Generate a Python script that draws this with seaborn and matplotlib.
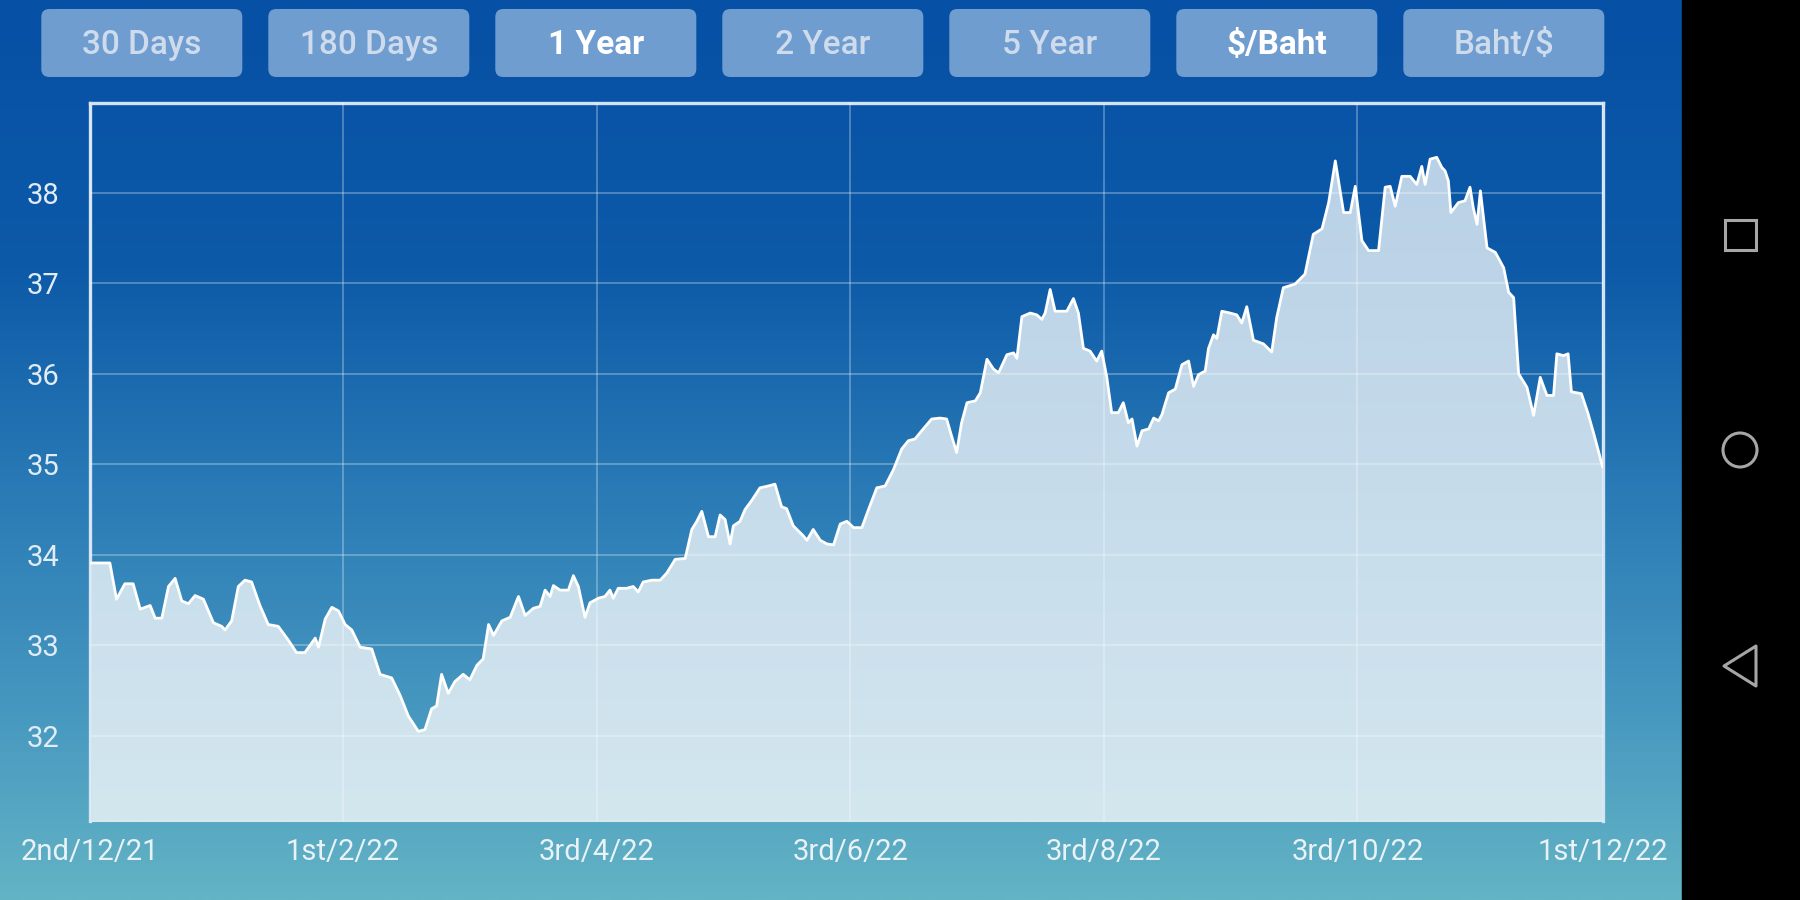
import numpy as np
import pandas as pd
import matplotlib
matplotlib.use("Agg")
import matplotlib.pyplot as plt
import matplotlib.dates as mdates
import seaborn as sns
from matplotlib.patches import FancyBboxPatch, Rectangle, Circle, Polygon
from matplotlib.colors import LinearSegmentedColormap

# ---------------- data ----------------
start_date = "2021-12-02"
day_offsets = [
    0.0, 4.9, 6.5, 8.5, 10.5, 12.2, 14.6, 15.8, 17.4, 19.0, 20.6, 22.2, 23.8, 25.4, 27.4,
    29.8, 31.8, 32.6, 34.2, 35.8, 37.4, 39.0, 41.0, 43.0, 45.4, 47.8, 49.8, 51.8, 54.3, 55.1,
    56.7, 58.3, 59.9, 61.5, 63.1, 65.1, 67.9, 69.9, 72.7, 74.7, 76.7, 79.1, 80.7, 82.3, 83.5,
    84.7, 86.3, 87.9, 89.9, 91.5, 93.2, 94.7, 96.0, 97.2, 99.2, 101.2, 103.2, 104.8, 106.8, 108.4,
    109.6, 110.8, 111.6, 113.2, 115.2, 116.4, 117.6, 119.2, 120.4, 122.4, 124.0, 125.2, 126.0, 127.2, 129.2,
    130.8, 132.0, 133.2, 135.3, 137.3, 138.9, 140.9, 143.3, 144.9, 146.1, 147.3, 148.9, 150.5, 151.7, 152.9,
    154.1, 154.9, 156.5, 157.7, 159.3, 161.3, 163.3, 164.9, 166.5, 167.7, 169.3, 171.7, 172.6, 174.1, 175.8,
    177.4, 179.0, 180.6, 182.2, 183.8, 185.8, 187.4, 189.4, 191.4, 193.4, 195.4, 197.0, 198.6, 200.2, 202.6,
    204.6, 206.2, 207.4, 208.6, 209.8, 211.1, 213.1, 214.3, 215.9, 217.5, 218.7, 220.7, 222.3, 223.1, 224.3,
    226.3, 227.9, 229.1, 229.9, 231.1, 232.3, 233.9, 235.1, 236.7, 237.9, 239.1, 240.7, 242.3, 243.5, 244.7,
    245.9, 247.5, 248.7, 249.9, 250.8, 252.0, 253.2, 254.8, 256.0, 257.2, 258.0, 259.6, 261.2, 262.8, 264.4,
    265.6, 266.8, 268.4, 269.2, 270.4, 271.2, 272.4, 274.4, 276.0, 277.2, 278.4, 280.0, 282.4, 284.4, 285.6,
    287.2, 290.0, 292.4, 294.4, 296.5, 298.1, 299.7, 301.7, 303.3, 304.5, 306.1, 307.7, 310.1, 311.7, 312.9,
    314.1, 315.7, 317.7, 319.3, 320.5, 321.3, 322.5, 324.1, 325.3, 326.1, 326.9, 327.5, 329.3, 330.9, 332.1,
    332.9, 333.8, 334.6, 336.2, 338.2, 340.2, 341.4, 342.6, 343.8, 345.8, 347.4, 349.0, 350.6, 352.2, 353.0,
    354.6, 355.7, 356.5, 358.9, 360.5, 362.1, 364.0,
]
rates = [
    33.91, 33.91, 33.51, 33.68, 33.68, 33.40, 33.44, 33.30, 33.30, 33.65, 33.74, 33.49, 33.46, 33.55, 33.51,
    33.25, 33.21, 33.17, 33.27, 33.65, 33.72, 33.70, 33.44, 33.23, 33.21, 33.06, 32.92, 32.92, 33.08, 32.98,
    33.29, 33.42, 33.38, 33.23, 33.17, 32.98, 32.96, 32.68, 32.64, 32.45, 32.22, 32.05, 32.07, 32.30, 32.33,
    32.68, 32.47, 32.60, 32.68, 32.62, 32.78, 32.85, 33.23, 33.11, 33.27, 33.31, 33.54, 33.33, 33.41, 33.43,
    33.61, 33.54, 33.66, 33.61, 33.61, 33.77, 33.65, 33.31, 33.47, 33.52, 33.54, 33.61, 33.52, 33.63, 33.63,
    33.65, 33.59, 33.70, 33.72, 33.72, 33.80, 33.95, 33.96, 34.28, 34.37, 34.48, 34.20, 34.20, 34.44, 34.39,
    34.12, 34.32, 34.37, 34.50, 34.60, 34.74, 34.76, 34.78, 34.53, 34.51, 34.32, 34.21, 34.16, 34.28, 34.16,
    34.12, 34.11, 34.34, 34.37, 34.30, 34.30, 34.50, 34.74, 34.76, 34.94, 35.17, 35.26, 35.28, 35.37, 35.50,
    35.51, 35.50, 35.31, 35.13, 35.46, 35.68, 35.70, 35.79, 36.16, 36.05, 36.01, 36.21, 36.23, 36.17, 36.63,
    36.67, 36.65, 36.60, 36.67, 36.93, 36.69, 36.69, 36.69, 36.83, 36.67, 36.28, 36.25, 36.14, 36.25, 35.97,
    35.57, 35.57, 35.68, 35.46, 35.50, 35.20, 35.37, 35.39, 35.51, 35.48, 35.55, 35.79, 35.83, 36.10, 36.14,
    35.86, 35.99, 36.03, 36.28, 36.43, 36.39, 36.69, 36.67, 36.65, 36.56, 36.74, 36.37, 36.33, 36.24, 36.62,
    36.95, 36.99, 37.10, 37.54, 37.60, 37.89, 38.35, 37.78, 37.78, 38.07, 37.47, 37.36, 37.36, 38.06, 38.07,
    37.85, 38.18, 38.18, 38.09, 38.29, 38.09, 38.37, 38.39, 38.28, 38.24, 38.13, 37.78, 37.89, 37.91, 38.06,
    37.83, 37.65, 38.02, 37.39, 37.34, 37.17, 36.90, 36.84, 36.00, 35.85, 35.54, 35.96, 35.76, 35.76, 36.22,
    36.20, 36.22, 35.80, 35.78, 35.56, 35.30, 34.97,
]
tick_dates = ["2021-12-02", "2022-02-01", "2022-04-03", "2022-06-03", "2022-08-03", "2022-10-03", "2022-12-01"]
tick_labels = ["2nd/12/21", "1st/2/22", "3rd/4/22", "3rd/6/22", "3rd/8/22", "3rd/10/22", "1st/12/22"]
y_ticks = [32, 33, 34, 35, 36, 37, 38]
buttons = ["30 Days", "180 Days", "1 Year", "2 Year", "5 Year", "$/Baht", "Baht/$"]
active_buttons = ["1 Year", "$/Baht"]

# ---------------- style ----------------
sns.set_theme(style="white")
plt.rcParams['font.family'] = ['Roboto', 'DejaVu Sans']

W, H = 1800, 900
fig = plt.figure(figsize=(W / 100, H / 100), dpi=100)

# background gradient
bg = fig.add_axes([0, 0, 1, 1], zorder=0)
bg_cmap = LinearSegmentedColormap.from_list(
    "bg", [(0.0, "#0650a5"), (0.3, "#0d5aa8"), (0.55, "#2a7bb6"), (0.8, "#4899c0"), (1.0, "#63b4c4")])
grad = np.linspace(0, 1, 512).reshape(-1, 1)
bg.imshow(grad, aspect="auto", cmap=bg_cmap, extent=[0, 1, 0, 1], origin="upper")
bg.set_xlim(0, 1)
bg.set_ylim(0, 1)
bg.axis("off")

px = fig.dpi_scale_trans  # inches; 1 inch = 100 px


def P(x, y):
    """full-pixel coords (top-left origin) -> inches from bottom-left"""
    return x / 100.0, (H - y) / 100.0


# android nav bar
bg.add_patch(Rectangle(P(1682, 900), 1.18, 9.0, transform=px, color="black", zorder=5))
icon_col = "#a6a6a6"
bg.add_patch(Rectangle(P(1725, 250), 0.31, 0.30, transform=px, fill=False,
                       ec=icon_col, lw=2.2, zorder=6))
bg.add_patch(Circle(P(1740, 450), 0.17, transform=px, fill=False, ec=icon_col, lw=2.2, zorder=6))
bg.add_patch(Polygon([P(1724, 666), P(1756, 646), P(1756, 686)], closed=True, transform=px,
                     fill=False, ec=icon_col, lw=2.2, joinstyle="round", zorder=6))

# top buttons
for i, lab in enumerate(buttons):
    x0 = 41.3 + i * 227.0
    bx, by = P(x0, 77)
    bg.add_patch(FancyBboxPatch((bx, by), 2.01, 0.68, transform=px,
                                boxstyle="round,pad=0,rounding_size=0.08",
                                fc="#6f9dcf", ec="none", zorder=6))
    active = lab in active_buttons
    tx, ty = P(x0 + 100.5, 45)
    bg.text(tx, ty, lab, transform=px, ha="center", va="center", fontsize=24,
            color="white" if active else "#cddbec",
            fontweight="bold" if active else "medium", zorder=7)

# ---------------- main chart ----------------
ylo, yhi = 31.06, 38.99
ax = fig.add_axes([89.5 / W, 1 - 821 / H, (1602.6 - 89.5) / W, (821 - 103) / H], zorder=2)
ax.patch.set_alpha(0)

dates = pd.Timestamp(start_date) + pd.to_timedelta(day_offsets, unit="D")
df = pd.DataFrame({"date": dates, "rate": rates})

x0n = mdates.date2num(pd.Timestamp(tick_dates[0]))
x1n = mdates.date2num(pd.Timestamp(tick_dates[-1]))

# gradient area fill clipped to the area under the curve
poly = ax.fill_between(mdates.date2num(df["date"]), df["rate"], ylo, color="none", lw=0, zorder=1)
fill_cmap = LinearSegmentedColormap.from_list("fill", ["#b7cfe6", "#d3e7ef"])
im = ax.imshow(grad, aspect="auto", cmap=fill_cmap, extent=[x0n, x1n, ylo, yhi],
               origin="upper", zorder=1)
im.set_clip_path(poly.get_paths()[0], transform=ax.transData)

sns.lineplot(data=df, x="date", y="rate", color="white", lw=2.0, ax=ax, zorder=4)

ax.set_xlim(x0n, x1n)
ax.set_ylim(ylo, yhi)
ax.set_xticks([mdates.date2num(pd.Timestamp(d)) for d in tick_dates])
ax.set_xticklabels(tick_labels)
ax.set_yticks(y_ticks)
ax.set_yticklabels([str(v) for v in y_ticks])
ax.set_xlabel("")
ax.set_ylabel("")
ax.set_axisbelow(False)
ax.grid(True, color="white", alpha=0.28, lw=1.4)
ax.tick_params(axis="y", length=0, pad=22, labelsize=21, labelcolor="#e2ecf6")
ax.tick_params(axis="x", length=0, pad=12, labelsize=21, labelcolor="#eaf2f8")
for side in ["left", "top", "right"]:
    ax.spines[side].set_color("#d3e3f2")
    ax.spines[side].set_linewidth(2.4)
ax.spines["bottom"].set_color("#d6e9ef")
ax.spines["bottom"].set_linewidth(1.5)

fig.savefig("out.png", dpi=100)
